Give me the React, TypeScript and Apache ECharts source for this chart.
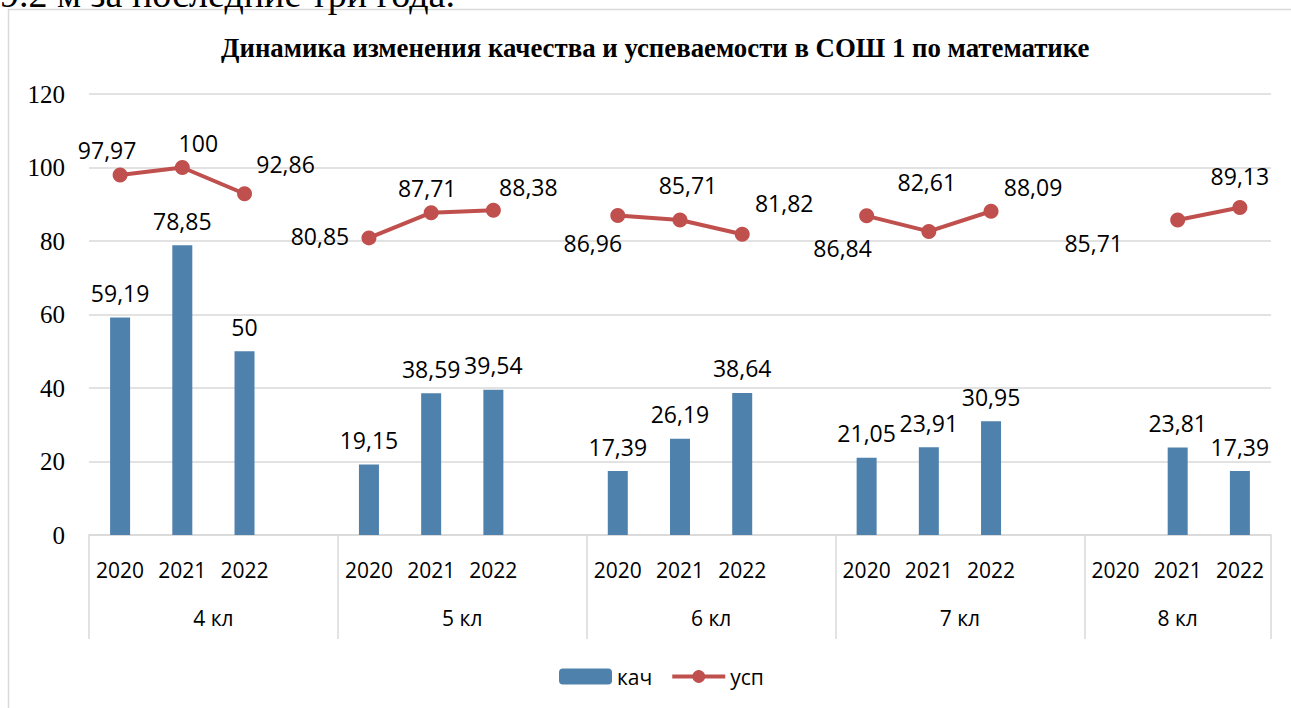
import React, { useEffect, useRef } from "react";
import * as echarts from "echarts";

const years = [
  "2020", "2021", "2022", "",
  "2020", "2021", "2022", "",
  "2020", "2021", "2022", "",
  "2020", "2021", "2022", "",
  "2020", "2021", "2022",
];
const groupNames = ["4 кл", "5 кл", "6 кл", "7 кл", "8 кл"];
const groupBounds = [0, 4, 8, 12, 16, 19];
const groupCenters = [2, 6, 10, 14, 17.5];

const kach = [
  59.19, 78.85, 50, null,
  19.15, 38.59, 39.54, null,
  17.39, 26.19, 38.64, null,
  21.05, 23.91, 30.95, null,
  null, 23.81, 17.39,
];
const usp = [
  97.97, 100, 92.86, null,
  80.85, 87.71, 88.38, null,
  86.96, 85.71, 81.82, null,
  86.84, 82.61, 88.09, null,
  null, 85.71, 89.13,
];
// label offsets for the line's data labels (style only)
const uspLabelOffsets: ([number, number] | null)[] = [
  [-13, -25], [16, -25], [41, -30], null,
  [-49, -2], [-4, -25], [35, -23], null,
  [-25, 28], [8, -35], [42, -31], null,
  [-24, 32], [-2, -49], [42, -24], null,
  null, [-84, 23], [0, -31],
];

const fmt = (v: number) => String(v).replace(".", ",");

export default function App() {
  const ref = useRef<HTMLDivElement>(null);
  useEffect(() => {
    const chart = echarts.init(ref.current!, null, { renderer: "svg" });
    const sans = "Open Sans";
    chart.setOption({
      animation: false,
      backgroundColor: "#ffffff",
      title: {
        text: "Динамика изменения качества и успеваемости в СОШ 1 по математике",
        left: 216,
        top: 29,
        textStyle: {
          fontFamily: "Liberation Serif",
          fontWeight: "bold",
          fontSize: 26.8,
          color: "#000",
        },
      },
      graphic: [
        {
          type: "rect",
          shape: { x: 8.5, y: 9.5, width: 1400, height: 800 },
          style: { fill: "none", stroke: "#d9d9d9", lineWidth: 1.5 },
          silent: true,
          z: -1,
        },
        {
          type: "text",
          x: 0,
          y: 13,
          style: {
            text: "9.2 м за последние три года.",
            font: "38px 'Liberation Serif'",
            fill: "#000",
            textVerticalAlign: "bottom",
          },
        },
      ],
      legend: {
        data: ["кач", "усп"],
        left: 554,
        top: 661,
        itemWidth: 53,
        itemHeight: 16,
        itemGap: 18,
        lineStyle: { width: 4 },
        textStyle: { fontFamily: sans, fontSize: 21, color: "#000" },
      },
      grid: { left: 89, right: 20, top: 94, bottom: 173 },
      xAxis: [
        {
          type: "category",
          data: years,
          axisLine: { lineStyle: { color: "#d9d9d9", width: 1.5 } },
          axisTick: { show: false },
          axisLabel: {
            interval: 0,
            margin: 24,
            fontFamily: sans,
            fontSize: 21,
            color: "#000",
          },
        },
        {
          type: "value",
          position: "bottom",
          min: 0,
          max: 19,
          axisLine: { show: false },
          splitLine: { show: false },
          axisTick: {
            show: true,
            customValues: groupBounds,
            length: 104,
            lineStyle: { color: "#d9d9d9", width: 1.5 },
          },
          axisLabel: {
            customValues: groupCenters,
            margin: 72,
            fontFamily: sans,
            fontSize: 21,
            color: "#000",
            formatter: (v: number) => groupNames[groupCenters.indexOf(v)] ?? "",
          },
        },
      ],
      yAxis: {
        type: "value",
        min: 0,
        max: 120,
        interval: 20,
        axisLine: { show: false },
        axisTick: { show: false },
        splitLine: { lineStyle: { color: "#d9d9d9", width: 1.5 } },
        axisLabel: {
          margin: 24,
          fontFamily: "Liberation Serif",
          fontSize: 25,
          color: "#000",
        },
      },
      series: [
        {
          name: "кач",
          type: "bar",
          data: kach,
          barWidth: 20,
          itemStyle: { color: "#4f81ad" },
          label: {
            show: true,
            position: "top",
            distance: 13,
            fontFamily: sans,
            fontSize: 23,
            color: "#000",
            formatter: (p: any) => fmt(p.value),
          },
        },
        {
          name: "усп",
          type: "line",
          connectNulls: false,
          symbol: "circle",
          symbolSize: 15,
          lineStyle: { color: "#c0504d", width: 4 },
          itemStyle: { color: "#c0504d" },
          data: usp.map((v, i) => {
            const off = uspLabelOffsets[i];
            return {
              value: v,
              label: off
                ? {
                    show: true,
                    position: "inside",
                    align: "center",
                    verticalAlign: "middle",
                    offset: off,
                  }
                : { show: false },
            };
          }),
          label: {
            show: true,
            fontFamily: sans,
            fontSize: 23,
            color: "#000",
            formatter: (p: any) => fmt(p.value),
          },
          z: 3,
        },
      ],
    });
    return () => chart.dispose();
  }, []);
  return (
    <div
      ref={ref}
      style={{ position: "fixed", left: 0, top: 0, width: 1291, height: 708 }}
    />
  );
}
